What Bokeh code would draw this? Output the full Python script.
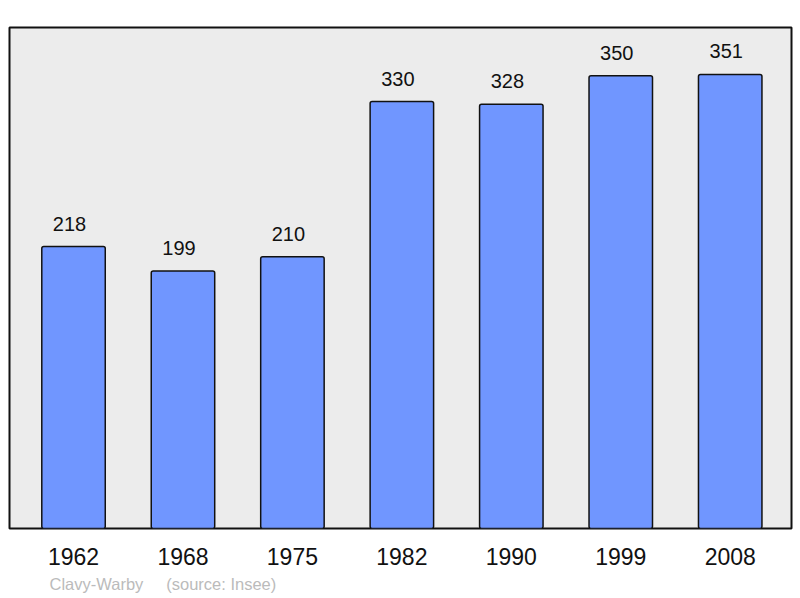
from bokeh.plotting import figure
from bokeh.models import ColumnDataSource, Range1d, FixedTicker, Title
from bokeh.core.properties import value
from bokeh.embed import file_html
from bokeh.resources import INLINE

years = ["1962", "1968", "1975", "1982", "1990", "1999", "2008"]
population = [218, 199, 210, 330, 328, 350, 351]
source_text = "Clavy-Warby\u00a0\u00a0\u00a0\u00a0\u00a0(source: Insee)"

xs = list(range(len(years)))
src = ColumnDataSource(dict(x=xs, pop=population, lab=[str(v) for v in population]))

FONT = "Liberation Sans"

p = figure(width=800, height=598, output_backend="svg", toolbar_location=None,
           x_range=Range1d(-0.585, 6.56), y_range=Range1d(0, 387.3),
           min_border_left=9, min_border_right=9, min_border_top=27, min_border_bottom=70)

p.background_fill_color = "#ececec"
p.border_fill_color = "white"
p.outline_line_color = "#111111"
p.outline_line_width = 2
p.grid.visible = False
p.yaxis.visible = False

p.vbar(x="x", top="pop", width=0.58, bottom=0, source=src,
       fill_color="#7096ff", line_color="#111111", line_width=1.5, border_radius=2)

p.text(x="x", y="pop", text="lab", source=src, y_offset=-23, x_offset=-4,
       text_align="center", text_baseline="alphabetic",
       text_font=value(FONT), text_font_size="20px", text_color="#111111")

ax = p.xaxis[0]
ax.ticker = FixedTicker(ticks=xs)
ax.major_label_overrides = {i: y for i, y in zip(xs, years)}
ax.axis_line_color = None
ax.major_tick_line_color = None
ax.minor_tick_line_color = None
ax.major_tick_out = 0
ax.major_tick_in = 0
ax.major_label_standoff = 19
ax.major_label_text_font = FONT
ax.major_label_text_font_size = "23px"
ax.major_label_text_color = "#111111"

t = Title(text=source_text, align="left", offset=40, standoff=11,
          text_font=FONT, text_font_size="16.5px", text_font_style="normal",
          text_color="#bbbbbb")
p.add_layout(t, "below")

open("out.html", "w").write(file_html(p, INLINE))
